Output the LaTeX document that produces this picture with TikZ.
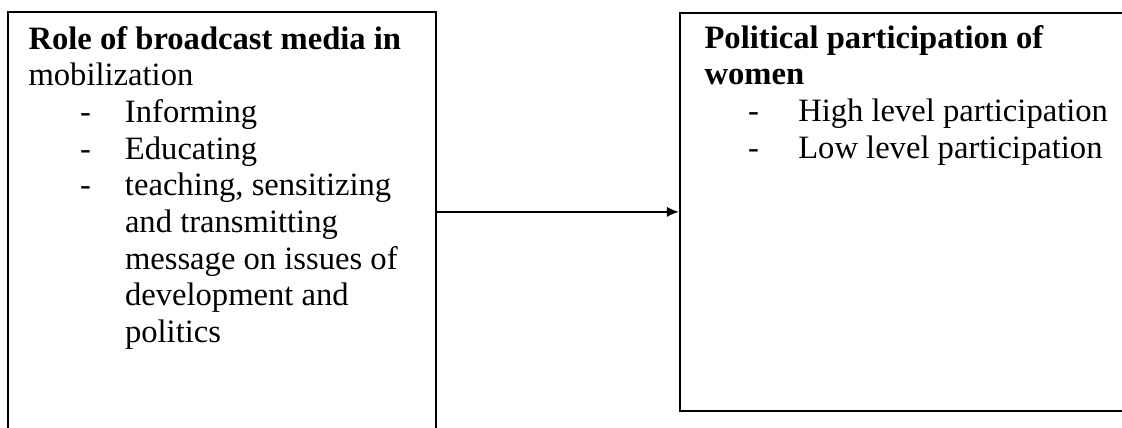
\documentclass[tikz,border=0pt]{standalone}
\usepackage{fontspec}
\setmainfont{Liberation Serif}
\usetikzlibrary{arrows.meta}
\newlength{\dashind}
\newlength{\itmind}
\newcommand{\itm}[1]{\makebox[\itmind][l]{\hspace*{\dashind}-}#1}
\newcommand{\cnt}[1]{\hspace*{\itmind}#1}
\begin{document}
\begin{tikzpicture}[x=0.368pt,y=-0.368pt,>={Latex[length=4.5pt,width=3.8pt]},
    box/.style={draw,line width=.6pt,inner sep=0pt,anchor=north west},
    txt/.style={anchor=base west,inner sep=0pt,font=\fontsize{12}{13.5}\selectfont}]
    \useasboundingbox (0,0) rectangle (1122,427);
    \node[box,minimum width=157.5pt,minimum height=155pt] (media) at (7,11) {};
    \node[box,minimum width=166pt,minimum height=146.5pt] (women) at (679,12) {};
% texts
    \node[txt] (mediatxt) at (28,49) {\setlength{\dashind}{19pt}\setlength{\itmind}{35.5pt}%
        \begin{tabular}[t]{@{}l@{}}
        \textbf{Role of broadcast media in}\\
        mobilization\\
        \itm{Informing}\\
        \itm{Educating}\\
        \itm{teaching, sensitizing}\\
        \cnt{and transmitting}\\
        \cnt{message on issues of}\\
        \cnt{development and}\\
        \cnt{politics}
        \end{tabular}};
    \node[txt] (womentxt) at (704,48) {\setlength{\dashind}{16pt}\setlength{\itmind}{34.5pt}%
        \begin{tabular}[t]{@{}l@{}}
        \textbf{Political participation of}\\
        \textbf{women}\\
        \itm{High level participation}\\
        \itm{Low level participation}
        \end{tabular}};
\draw[->,line width=.6pt] (media.east |- women.west) -- (women.west);

\end{tikzpicture}
\end{document}
